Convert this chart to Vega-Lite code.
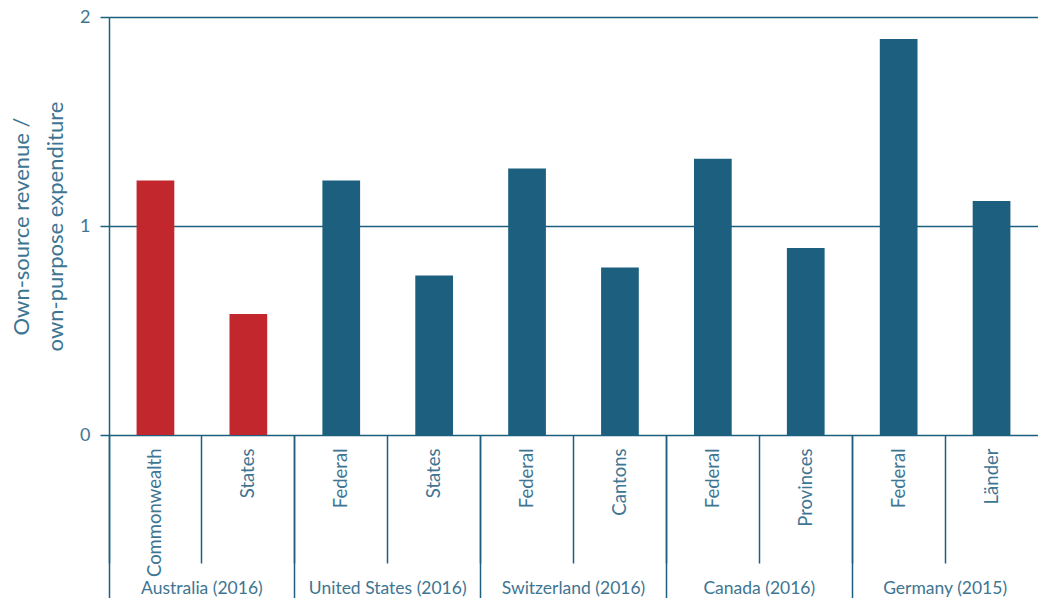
{
  "$schema": "https://vega.github.io/schema/vega-lite/v6.json",
  "width": 929,
  "height": 418,
  "autosize": {"type": "none"},
  "padding": {"left": 109, "top": 17, "right": 0, "bottom": 163},
  "config": {"font": "Lato", "view": {"stroke": null}},
  "data": {
    "values": [
      {"country": "Australia (2016)", "level": "Commonwealth", "key": "Australia (2016)|Commonwealth", "value": 1.218},
      {"country": "Australia (2016)", "level": "States", "key": "Australia (2016)|States", "value": 0.579},
      {"country": "United States (2016)", "level": "Federal", "key": "United States (2016)|Federal", "value": 1.218},
      {"country": "United States (2016)", "level": "States", "key": "United States (2016)|States", "value": 0.763},
      {"country": "Switzerland (2016)", "level": "Federal", "key": "Switzerland (2016)|Federal", "value": 1.275},
      {"country": "Switzerland (2016)", "level": "Cantons", "key": "Switzerland (2016)|Cantons", "value": 0.801},
      {"country": "Canada (2016)", "level": "Federal", "key": "Canada (2016)|Federal", "value": 1.322},
      {"country": "Canada (2016)", "level": "Provinces", "key": "Canada (2016)|Provinces", "value": 0.895},
      {"country": "Germany (2015)", "level": "Federal", "key": "Germany (2015)|Federal", "value": 1.895},
      {"country": "Germany (2015)", "level": "Länder", "key": "Germany (2015)|Länder", "value": 1.12}
    ]
  },
  "layer": [
    {
      "mark": {"type": "bar", "width": {"band": 0.406}},
      "encoding": {
        "x": {
          "field": "key",
          "type": "nominal",
          "sort": null,
          "scale": {"type": "band", "paddingInner": 0, "paddingOuter": 0},
          "axis": {
            "orient": "bottom",
            "title": null,
            "domain": false,
            "grid": false,
            "ticks": true,
            "tickSize": 128,
            "tickColor": "#1D5F7E",
            "tickWidth": 1.5,
            "bandPosition": 0,
            "labelAngle": -90,
            "labelAlign": "right",
            "labelBaseline": "middle",
            "labelPadding": -115,
            "labelFontSize": 18.5,
            "labelColor": "#3E7592",
            "labelExpr": "split(datum.label, '|')[1]"
          }
        },
        "y": {
          "field": "value",
          "type": "quantitative",
          "scale": {"domain": [0, 2]},
          "axis": {
            "values": [0, 1, 2],
            "labelExpr": "'' + datum.value",
            "grid": true,
            "gridColor": "#1D5F7E",
            "gridWidth": 1.5,
            "gridOpacity": 1,
            "domain": true,
            "domainColor": "#1D5F7E",
            "domainWidth": 1.5,
            "tickSize": 9,
            "tickColor": "#1D5F7E",
            "tickWidth": 1.5,
            "labelPadding": 10,
            "labelFontSize": 18,
            "labelColor": "#3E7592",
            "title": ["Own-source revenue /", "own-purpose expenditure"],
            "titleFontSize": 22,
            "titleFontWeight": "normal",
            "titleColor": "#3E7592",
            "titleLineHeight": 34,
            "titlePadding": 12
          }
        },
        "color": {
          "field": "country",
          "type": "nominal",
          "sort": null,
          "scale": {
            "domain": ["Australia (2016)", "United States (2016)", "Switzerland (2016)", "Canada (2016)", "Germany (2015)"],
            "range": ["#C1272D", "#1C5F7E", "#1C5F7E", "#1C5F7E", "#1C5F7E"]
          },
          "legend": null
        }
      }
    },
    {
      "mark": {"type": "bar", "opacity": 0},
      "encoding": {
        "x": {
          "field": "country",
          "type": "nominal",
          "sort": null,
          "scale": {"type": "band", "paddingInner": 0, "paddingOuter": 0},
          "axis": {
            "orient": "bottom",
            "title": null,
            "domain": false,
            "grid": false,
            "ticks": true,
            "tickSize": 163,
            "tickColor": "#1D5F7E",
            "tickWidth": 1.5,
            "bandPosition": 0,
            "labelAngle": 0,
            "labelAlign": "center",
            "labelBaseline": "top",
            "labelPadding": -19,
            "labelFontSize": 17.5,
            "labelColor": "#3E7592"
          }
        }
      }
    }
  ],
  "resolve": {"scale": {"x": "independent", "color": "independent"}, "axis": {"x": "independent"}}
}
